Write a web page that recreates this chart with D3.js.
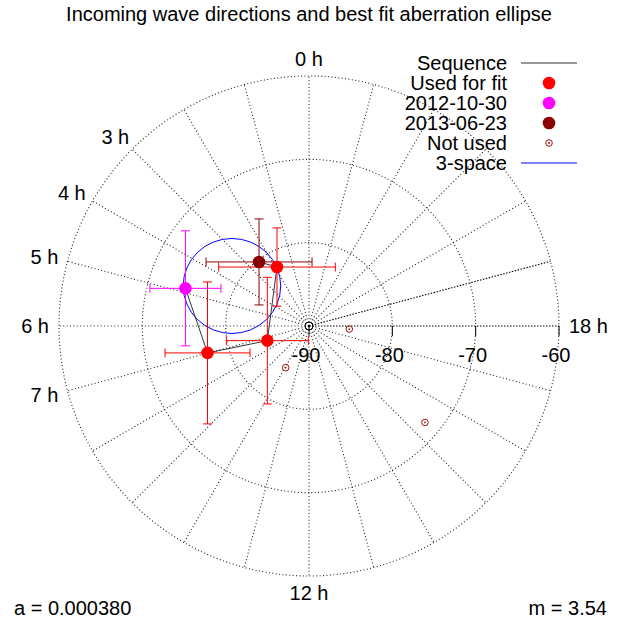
<!DOCTYPE html>
<html lang="en">
<head>
<meta charset="UTF-8">
<title>Incoming wave directions and best fit aberration ellipse</title>
<script src="https://cdn.jsdelivr.net/npm/d3@7"></script>
<style>
    body { margin: 0; background: #fff; }
    svg { display: block; font-family: "Liberation Sans", Arial, sans-serif; font-size: 20px; }
    .grid { fill: none; stroke: #222; stroke-width: 1.1; stroke-dasharray: 1, 2.4; }
    .grid.dense { stroke: #000; stroke-dasharray: 1.5, 1.5; }
    .tick { stroke: #000; stroke-width: 1; }
    .seq { fill: none; stroke: #333; stroke-width: 1; }
    .ellipse { fill: none; stroke: #0000ff; stroke-width: 1; }
</style>
</head>
<body>
<svg width="622" height="626"></svg>
<script>
// hour labels shown around the rim, and the radial (elevation) ticks
const hourLabels = [0, 3, 4, 5, 6, 7, 12, 18];
const radialTicks = [-90, -80, -70, -60];

// measured points, in sequence order (hour angle, elevation, x/y errors in degrees)
const pointSeries = ["2013-06-23", "Used for fit", "Used for fit", "Used for fit", "2012-10-30"];
const pointHours = [2.53, 1.90, 7.29, 6.99, 4.87];
const pointElev = [-80.25, -81.95, -84.7, -77.4, -74.5];
const pointErrX = [6.36, 7.0, 4.92, 5.1, 4.26];
const pointErrY = [5.16, 4.7, 7.6, 8.52, 6.9];

// points not used for the fit
const unusedHours = [17.71, 10.05, 15.35];
const unusedElev = [-85.15, -84.27, -71.9];

// best fit ellipse (centre in hour/elevation, semi-axes in degrees)
const ellipseHour = 4.17;
const ellipseElev = -79.58;
const ellipseRx = 5.85;
const ellipseRy = 5.7;

const colors = {
    "Used for fit": "#ff0000",
    "2012-10-30": "#ff00ff",
    "2013-06-23": "#8b0000"
};
const unusedColor = "#a01010";

const svg = d3.select("svg");
const cx = 309, cy = 326;

const r = d3.scaleLinear().domain([-90, -60]).range([0, 250]);
const ang = d3.scaleLinear().domain([0, 24]).range([0, 2 * Math.PI]);
const unit = v => r(-90 + v) - r(-90);

function polar(hour, elev) {
    const a = ang(hour), rr = r(elev);
    return [cx - rr * Math.sin(a), cy - rr * Math.cos(a)];
}

// title
svg.append("text")
    .attr("x", 309).attr("y", 21)
    .attr("text-anchor", "middle")
    .text("Incoming wave directions and best fit aberration ellipse");

// grid
const g = svg.append("g");
g.selectAll("circle.grid")
    .data(radialTicks.slice(1))
    .enter().append("circle")
    .attr("class", "grid")
    .attr("cx", cx).attr("cy", cy)
    .attr("r", d => r(d));

g.selectAll("line.grid")
    .data(d3.range(0, 24))
    .enter().append("line")
    .attr("class", d => (d === 18 || d === 19) ? "grid dense" : "grid")
    .attr("x1", cx).attr("y1", cy)
    .attr("x2", d => polar(d, -60)[0])
    .attr("y2", d => polar(d, -60)[1]);

// radial ticks and labels along 18 h
radialTicks.forEach(t => {
    const x = cx + r(t);
    g.append("line").attr("class", "tick")
        .attr("x1", x).attr("x2", x)
        .attr("y1", cy).attr("y2", cy + 10);
    g.append("text")
        .attr("x", x - 3).attr("y", cy + 36)
        .attr("text-anchor", "middle")
        .text(t);
});

// hour labels
hourLabels.forEach(h => {
    const a = ang(h);
    const ux = -Math.sin(a), uy = -Math.cos(a);
    const p = polar(h, -90 + 31.2);
    const t = svg.append("text")
        .attr("text-anchor", "middle")
        .text(h + " h");
    const w = t.node().getComputedTextLength();
    t.attr("x", p[0] + ux * w / 2)
        .attr("y", p[1] + uy * 7)
        .attr("dy", "0.35em");
});

// centre marker
svg.append("circle").attr("cx", cx).attr("cy", cy).attr("r", 4)
    .attr("fill", "none").attr("stroke", "#000");
svg.append("circle").attr("cx", cx).attr("cy", cy).attr("r", 1.3).attr("fill", "#000");

// ellipse
const ec = polar(ellipseHour, ellipseElev);
svg.append("ellipse")
    .attr("class", "ellipse")
    .attr("cx", ec[0]).attr("cy", ec[1])
    .attr("rx", unit(ellipseRx)).attr("ry", unit(ellipseRy));

// sequence line
const pts = pointHours.map((h, i) => polar(h, pointElev[i]));
svg.append("path")
    .attr("class", "seq")
    .attr("d", d3.line()(pts));

// error bars
const cap = 4.5;
pts.forEach((p, i) => {
    const c = colors[pointSeries[i]];
    const ex = unit(pointErrX[i]), ey = unit(pointErrY[i]);
    const eb = svg.append("g").attr("stroke", c).attr("stroke-width", 1);
    eb.append("line").attr("x1", p[0] - ex).attr("x2", p[0] + ex).attr("y1", p[1]).attr("y2", p[1]);
    eb.append("line").attr("x1", p[0] - ex).attr("x2", p[0] - ex).attr("y1", p[1] - cap).attr("y2", p[1] + cap);
    eb.append("line").attr("x1", p[0] + ex).attr("x2", p[0] + ex).attr("y1", p[1] - cap).attr("y2", p[1] + cap);
    eb.append("line").attr("x1", p[0]).attr("x2", p[0]).attr("y1", p[1] - ey).attr("y2", p[1] + ey);
    eb.append("line").attr("x1", p[0] - cap).attr("x2", p[0] + cap).attr("y1", p[1] - ey).attr("y2", p[1] - ey);
    eb.append("line").attr("x1", p[0] - cap).attr("x2", p[0] + cap).attr("y1", p[1] + ey).attr("y2", p[1] + ey);
});

// points
svg.selectAll("circle.pt")
    .data(pts)
    .enter().append("circle")
    .attr("class", "pt")
    .attr("cx", d => d[0]).attr("cy", d => d[1])
    .attr("r", 6.3)
    .attr("fill", (d, i) => colors[pointSeries[i]]);

// unused points
const up = unusedHours.map((h, i) => polar(h, unusedElev[i]));
svg.selectAll("circle.unused")
    .data(up)
    .enter().append("circle")
    .attr("class", "unused")
    .attr("cx", d => d[0]).attr("cy", d => d[1])
    .attr("r", 3.3)
    .attr("fill", "none").attr("stroke", unusedColor);
svg.selectAll("circle.unusedDot")
    .data(up)
    .enter().append("circle")
    .attr("cx", d => d[0]).attr("cy", d => d[1])
    .attr("r", 0.9)
    .attr("fill", unusedColor);

// legend
const legend = [
    {label: "Sequence", type: "line", color: "#333"},
    {label: "Used for fit", type: "dot", color: colors["Used for fit"]},
    {label: "2012-10-30", type: "dot", color: colors["2012-10-30"]},
    {label: "2013-06-23", type: "dot", color: colors["2013-06-23"]},
    {label: "Not used", type: "ring", color: unusedColor},
    {label: "3-space", type: "line", color: "#0000ff"}
];
const lg = svg.append("g");
legend.forEach((d, i) => {
    const y = 63 + i * 20;
    lg.append("text")
        .attr("x", 507).attr("y", y).attr("dy", "0.35em")
        .attr("text-anchor", "end")
        .text(d.label);
    if (d.type === "line") {
        lg.append("line").attr("x1", 521).attr("x2", 577).attr("y1", y).attr("y2", y)
            .attr("stroke", d.color);
    } else if (d.type === "dot") {
        lg.append("circle").attr("cx", 549).attr("cy", y).attr("r", 6.3).attr("fill", d.color);
    } else {
        lg.append("circle").attr("cx", 549).attr("cy", y).attr("r", 3.3)
            .attr("fill", "none").attr("stroke", d.color);
        lg.append("circle").attr("cx", 549).attr("cy", y).attr("r", 0.9).attr("fill", d.color);
    }
});

// fit parameters
svg.append("text").attr("x", 14).attr("y", 615).text("a = 0.000380");
svg.append("text").attr("x", 607).attr("y", 615).attr("text-anchor", "end").text("m = 3.54");
</script>
</body>
</html>
